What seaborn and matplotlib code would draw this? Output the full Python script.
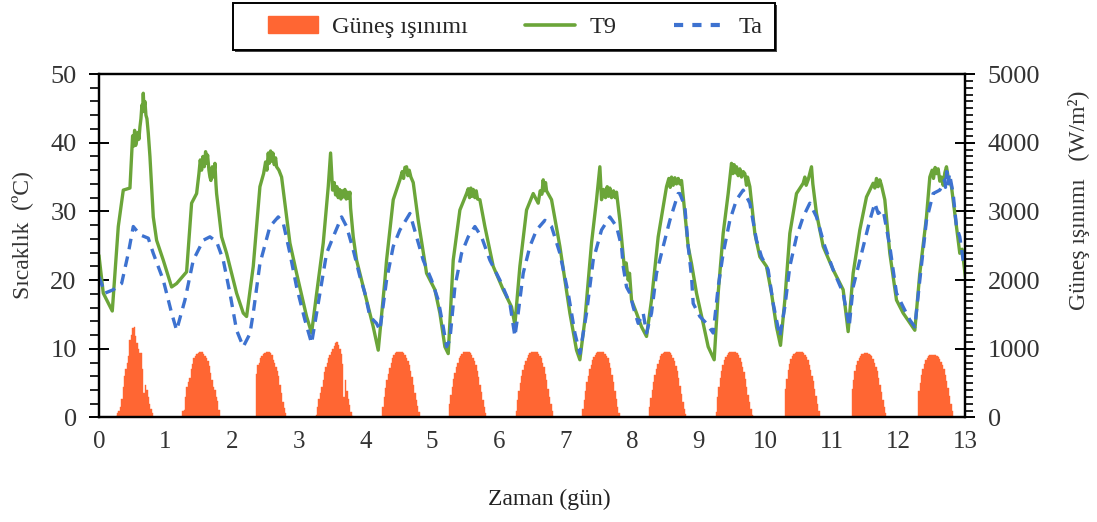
import numpy as np
import pandas as pd
import seaborn as sns
import matplotlib
matplotlib.use("Agg")
import matplotlib.pyplot as plt
from matplotlib.ticker import MultipleLocator
from matplotlib.patches import Patch, Rectangle
from matplotlib.lines import Line2D

# ---------------- data ----------------
t9_time = [0.0, 0.065, 0.2, 0.29, 0.365, 0.465, 0.49, 0.505, 0.52, 0.535, 0.55, 0.565, 0.585, 0.6, 0.615,
           0.63, 0.645, 0.655, 0.665, 0.675, 0.69, 0.705, 0.72, 0.74, 0.765, 0.815, 0.865, 0.965,
           1.09, 1.165, 1.315, 1.39, 1.465, 1.5, 1.52, 1.54, 1.56, 1.58, 1.6, 1.615, 1.63, 1.65, 1.665,
           1.68, 1.7, 1.72, 1.74, 1.755, 1.765, 1.84, 1.915,
           2.065, 2.165, 2.215, 2.315, 2.415, 2.47, 2.5, 2.52, 2.54, 2.555, 2.575, 2.59, 2.61, 2.63, 2.65,
           2.665, 2.7, 2.74, 2.815, 2.865, 2.965,
           3.115, 3.19, 3.265, 3.365, 3.44, 3.475, 3.505, 3.53, 3.55, 3.57, 3.59, 3.61, 3.63, 3.65, 3.665,
           3.69, 3.71, 3.73, 3.75, 3.765, 3.775, 3.815, 3.865,
           4.015, 4.115, 4.19, 4.29, 4.315, 4.415, 4.515, 4.55, 4.57, 4.59, 4.615, 4.635, 4.655, 4.68, 4.715,
           4.79, 4.915,
           5.04, 5.115, 5.19, 5.24, 5.315, 5.415, 5.515, 5.54, 5.56, 5.58, 5.6, 5.615, 5.64, 5.66, 5.68, 5.715,
           5.79, 5.915,
           6.065, 6.19, 6.24, 6.315, 6.415, 6.515, 6.59, 6.62, 6.645, 6.665, 6.68, 6.7, 6.715, 6.79, 6.915,
           7.065, 7.165, 7.215, 7.29, 7.39, 7.465, 7.515, 7.54, 7.57, 7.6, 7.625, 7.645, 7.665, 7.69, 7.72,
           7.745, 7.765, 7.815, 7.89, 7.91, 7.94, 7.96, 7.99,
           8.065, 8.14, 8.215, 8.29, 8.39, 8.515, 8.55, 8.57, 8.59, 8.615, 8.64, 8.665, 8.69, 8.715, 8.74,
           8.77, 8.84, 8.89, 8.965,
           9.065, 9.14, 9.23, 9.29, 9.365, 9.44, 9.49, 9.51, 9.53, 9.55, 9.565, 9.59, 9.615, 9.64, 9.665,
           9.69, 9.715, 9.73, 9.765, 9.84, 9.915,
           10.015, 10.09, 10.165, 10.225, 10.29, 10.365, 10.465, 10.565, 10.59, 10.61, 10.64, 10.69, 10.71,
           10.765, 10.865,
           11.015, 11.165, 11.24, 11.315, 11.415, 11.515, 11.615, 11.64, 11.665, 11.69, 11.715, 11.74,
           11.79, 11.865, 11.965,
           12.065, 12.24, 12.315, 12.415, 12.465, 12.5, 12.52, 12.545, 12.565, 12.59, 12.615, 12.64, 12.665,
           12.69, 12.715, 12.74, 12.79, 12.865, 12.915, 12.95, 13.0]
t9_temp = [23.6, 18.1, 15.5, 27.8, 33.1, 33.4, 38.0, 41.0, 39.5, 41.8, 39.6, 40.2, 41.5, 40.5, 42.3,
           43.5, 45.5, 44.5, 47.2, 45.0, 46.0, 44.0, 43.5, 41.4, 38.0, 29.2, 25.8, 22.9,
           19.0, 19.5, 21.2, 31.2, 32.6, 35.5, 37.5, 36.0, 38.0, 36.5, 38.7, 37.0, 38.2, 36.0, 35.0,
           34.5, 36.5, 35.0, 37.0, 34.0, 32.6, 26.3, 23.9,
           18.1, 15.2, 14.7, 22.0, 33.6, 35.5, 37.2, 36.0, 38.5, 37.0, 38.8, 37.3, 38.5, 36.8, 37.8,
           36.5, 36.0, 35.0, 29.2, 25.4, 21.0,
           14.7, 12.3, 18.0, 25.4, 33.6, 38.5, 33.1, 34.2, 32.4, 33.6, 32.0, 33.2, 31.8, 33.0, 32.1,
           33.2, 31.8, 32.8, 31.9, 32.8, 30.5, 26.3, 22.9,
           17.1, 13.2, 9.8, 20.0, 22.9, 31.7, 34.6, 35.8, 34.8, 36.4, 36.5, 35.2, 36.0, 35.0, 34.2,
           28.7, 21.0,
           18.6, 15.2, 10.3, 9.3, 22.9, 30.2, 32.6, 33.3, 32.0, 33.4, 32.2, 33.2, 32.0, 33.0, 31.8, 31.7,
           27.8, 22.0,
           18.6, 16.1, 13.5, 22.0, 30.2, 32.6, 31.2, 33.0, 32.5, 34.6, 33.0, 34.2, 33.0, 31.7, 24.9,
           15.2, 9.8, 8.4, 14.2, 25.4, 31.7, 36.5, 31.7, 33.2, 32.0, 33.6, 32.2, 33.4, 32.0, 33.0,
           32.0, 32.8, 28.7, 21.0, 22.5, 20.0, 21.0, 17.1,
           15.2, 13.2, 11.8, 17.1, 26.3, 33.6, 34.8, 33.5, 35.0, 33.8, 34.9, 34.0, 34.8, 34.0, 34.5,
           31.7, 24.9, 22.4, 18.1,
           13.7, 10.3, 8.4, 18.1, 26.8, 32.6, 37.0, 35.5, 36.8, 35.6, 36.5, 35.2, 36.2, 35.0, 35.8,
           35.5, 33.8, 35.0, 33.6, 26.8, 23.4,
           22.0, 18.1, 13.2, 10.5, 17.1, 26.8, 32.6, 34.1, 35.0, 33.8, 34.6, 36.5, 34.0,
           29.7, 24.9,
           21.5, 18.6, 12.5, 21.0, 27.3, 32.1, 34.1, 33.4, 34.8, 33.6, 34.6, 33.8,
           31.7, 23.9, 17.1,
           15.2, 12.7, 21.0, 29.2, 35.0, 36.0, 34.8, 36.4, 35.5, 36.2, 34.4, 35.0, 33.8,
           35.6, 36.5, 35.0, 33.6, 27.8, 23.9, 24.5, 20.4]

ta_time = [0.0, 0.09, 0.215, 0.34, 0.44, 0.515, 0.615, 0.74, 0.815, 0.965, 1.09, 1.165, 1.29, 1.415, 1.565,
           1.665, 1.765, 1.865, 1.965, 2.065, 2.165, 2.265, 2.315, 2.415, 2.565, 2.69, 2.765, 2.865, 2.965,
           3.09, 3.19, 3.315, 3.415, 3.515, 3.64, 3.715, 3.815, 3.915, 3.99, 4.065, 4.165, 4.215, 4.315,
           4.415, 4.515, 4.665, 4.765, 4.865, 4.99, 5.09, 5.165, 5.215, 5.265, 5.34, 5.44, 5.54, 5.64, 5.74,
           5.865, 6.015, 6.165, 6.24, 6.29, 6.365, 6.465, 6.565, 6.69, 6.79, 6.915, 7.04, 7.14, 7.215, 7.315,
           7.415, 7.54, 7.665, 7.765, 7.84, 7.865, 7.915, 7.965, 8.015, 8.09, 8.165, 8.215, 8.29, 8.365,
           8.465, 8.565, 8.69, 8.715, 8.79, 8.84, 8.89, 8.915, 9.015, 9.115, 9.215, 9.29, 9.365, 9.465,
           9.565, 9.665, 9.765, 9.865, 9.94, 10.04, 10.115, 10.215, 10.29, 10.365, 10.465, 10.565, 10.665,
           10.765, 10.89, 11.015, 11.165, 11.255, 11.315, 11.415, 11.565, 11.64, 11.69, 11.765, 11.865,
           11.965, 12.065, 12.165, 12.24, 12.315, 12.415, 12.515, 12.615, 12.69, 12.7, 12.72, 12.74,
           12.76, 12.815, 12.865, 12.915, 12.965, 13.0]
ta_temp = [20.5, 18.1, 18.6, 19.5, 23.9, 27.8, 26.6, 26.1, 23.9, 20.0, 15.2, 12.7, 17.1, 22.9, 25.8,
           26.3, 25.6, 22.9, 18.1, 12.7, 10.3, 12.2, 15.2, 22.4, 27.8, 29.2, 28.3, 23.9, 19.0,
           14.2, 10.8, 18.1, 23.9, 26.3, 29.2, 27.8, 24.4, 20.5, 18.1, 14.7, 13.7, 12.7, 20.0,
           24.9, 27.3, 29.7, 26.3, 22.9, 20.0, 17.1, 13.2, 10.3, 11.3, 19.0, 23.9, 26.3, 27.8, 26.3,
           22.9, 20.0, 16.6, 11.8, 15.2, 21.0, 24.9, 27.3, 28.7, 27.8, 23.9, 18.1, 12.3, 9.3, 15.2,
           22.9, 27.3, 29.2, 27.8, 24.9, 22.0, 19.0, 18.1, 16.1, 13.7, 15.2, 12.3, 15.2, 21.0,
           24.9, 28.7, 32.6, 32.6, 30.7, 24.9, 20.5, 16.6, 14.7, 13.7, 12.3, 19.0, 23.9, 28.7,
           31.7, 33.1, 31.2, 25.8, 23.4, 21.5, 16.6, 11.8, 16.1, 22.0, 26.3, 29.2, 31.2,
           29.2, 24.9, 21.5, 18.1, 13.2, 19.0, 22.9, 28.7, 31.2, 29.7, 30.2, 24.9,
           18.1, 16.1, 14.2, 13.2, 20.0, 28.7, 32.6, 33.1, 34.6, 33.5, 35.8, 34.0,
           35.5, 32.6, 27.8, 26.3, 22.9, 22.0]

# solar radiation (W/m2), half-hour values per day, first value = 06:00-06:30
rad_first_slot = 12
rad_d0 = [20, 60, 100, 150, 270, 450, 600, 700, 800, 900, 1130, 1200, 1300, 1320, 1180, 1080, 1000, 935, 935, 700, 350, 470, 400, 300, 200, 130, 60, 0]
rad_d1 = [100, 110, 300, 450, 520, 580, 700, 780, 860, 890, 920, 935, 950, 958, 950, 930, 900, 860, 820, 750, 650, 550, 450, 400, 300, 240, 110, 0]
rad_d2 = [0, 0, 0, 0, 0, 640, 760, 800, 860, 900, 930, 945, 958, 958, 958, 940, 910, 840, 790, 740, 680, 600, 480, 350, 230, 140, 60, 0]
rad_d3 = [30, 150, 270, 360, 450, 550, 660, 730, 800, 860, 910, 960, 1000, 1040, 1080, 1100, 1060, 1000, 920, 780, 300, 550, 380, 270, 180, 80, 20, 0]
rad_d4 = [150, 300, 430, 540, 640, 720, 800, 860, 905, 935, 950, 958, 960, 958, 950, 935, 910, 870, 820, 760, 680, 590, 480, 360, 260, 170, 80, 0]
rad_d5 = [200, 330, 450, 560, 650, 730, 800, 860, 900, 930, 950, 958, 960, 958, 950, 935, 910, 870, 820, 760, 680, 590, 480, 370, 260, 160, 70, 0]
rad_d6 = [100, 250, 380, 500, 600, 690, 760, 820, 870, 910, 935, 950, 958, 960, 958, 950, 930, 900, 860, 800, 730, 640, 540, 420, 300, 190, 90, 0]
rad_d7 = [120, 260, 390, 510, 610, 700, 770, 830, 880, 915, 940, 952, 958, 960, 958, 950, 930, 900, 860, 800, 720, 620, 510, 390, 270, 160, 70, 0]
rad_d8 = [150, 280, 400, 520, 620, 700, 780, 840, 890, 920, 945, 955, 960, 958, 950, 935, 910, 870, 820, 750, 670, 570, 460, 340, 230, 130, 50, 0]
rad_d9 = [80, 300, 450, 580, 680, 760, 830, 880, 915, 940, 952, 958, 960, 958, 950, 935, 905, 865, 810, 740, 660, 560, 450, 330, 220, 120, 40, 0]
rad_d10 = [0, 0, 420, 560, 690, 780, 850, 890, 920, 940, 950, 958, 960, 958, 950, 935, 910, 880, 830, 760, 690, 610, 530, 420, 310, 200, 90, 0]
rad_d11 = [0, 0, 420, 550, 670, 760, 820, 870, 900, 920, 930, 935, 935, 935, 930, 915, 890, 850, 800, 740, 670, 580, 480, 370, 260, 150, 60, 0]
rad_d12 = [0, 0, 380, 500, 620, 710, 780, 830, 865, 890, 905, 910, 910, 910, 905, 895, 875, 850, 810, 760, 700, 620, 530, 430, 320, 200, 90, 0]

x_ticks = list(range(0, 14))
temp_ticks = [0, 10, 20, 30, 40, 50]
rad_ticks = [0, 1000, 2000, 3000, 4000, 5000]

legend_labels = ["Güneş ışınımı", "T9", "Ta"]
x_label = "Zaman (gün)"
y_label_left = "Sıcaklık  (ºC)"
y_label_right = "Güneş ışınımı   (W/m²)"

# ---------------- styling ----------------
ORANGE = "#FF6633"
GREEN = "#6BA539"
BLUE = "#3D72D0"

sns.set_theme(style="white")
plt.rcParams["font.family"] = ["Liberation Serif", "DejaVu Serif"]
plt.rcParams["axes.edgecolor"] = "black"
plt.rcParams["xtick.color"] = "black"
plt.rcParams["ytick.color"] = "black"

rad_days = [rad_d0, rad_d1, rad_d2, rad_d3, rad_d4, rad_d5, rad_d6, rad_d7,
            rad_d8, rad_d9, rad_d10, rad_d11, rad_d12]
rad_time, rad_value = [], []
for day, vals in enumerate(rad_days):
    for i, v in enumerate(vals):
        rad_time.append(day + (rad_first_slot + i + 0.5) / 48.0)
        rad_value.append(v)
rad_df = pd.DataFrame({"time": rad_time, "rad": rad_value})

t9_df = pd.DataFrame({"time": t9_time, "temp": t9_temp})
ta_df = pd.DataFrame({"time": ta_time, "temp": ta_temp})

fig = plt.figure(figsize=(10.97, 5.22), dpi=100)
ax = fig.add_axes([0.0902, 0.2002, 0.7899, 0.6580])
ax2 = ax.twinx()

# bars (solar radiation) on the right axis
sns.histplot(data=rad_df, x="time", weights="rad", binwidth=1 / 48.0, binrange=(0, 13),
             ax=ax2, color=ORANGE, alpha=1.0, edgecolor=ORANGE, linewidth=0.3)

# temperatures on the left axis
sns.lineplot(data=t9_df, x="time", y="temp", ax=ax, color=GREEN, linewidth=2.4,
             estimator=None, sort=False)
sns.lineplot(data=ta_df, x="time", y="temp", ax=ax, color=BLUE, linewidth=2.4,
             estimator=None, sort=False)
ax.lines[-1].set_dashes([3.2, 2.2])
ax.lines[-1].set_dash_capstyle("butt")

ax.set_zorder(ax2.get_zorder() + 1)
ax.patch.set_visible(False)

ax.set_xlim(0, 13)
ax.set_ylim(0, 50)
ax2.set_ylim(0, 5000)
ax.set_xticks(x_ticks)
ax.set_xticklabels([str(v) for v in x_ticks])
ax.set_yticks(temp_ticks)
ax.set_yticklabels([str(v) for v in temp_ticks])
ax2.set_yticks(rad_ticks)
ax2.set_yticklabels([str(v) for v in rad_ticks])
ax.xaxis.set_minor_locator(MultipleLocator(0.5))
ax.yaxis.set_minor_locator(MultipleLocator(2))
ax2.yaxis.set_minor_locator(MultipleLocator(100))

ax.set_xlabel("")
ax.set_ylabel("")
ax2.set_xlabel("")
ax2.set_ylabel("")

for a in (ax, ax2):
    for s in a.spines.values():
        s.set_color("black")
        s.set_linewidth(1.6)

ax.tick_params(axis="x", which="major", direction="inout", length=13, width=1.4,
               labelsize=18, pad=3, top=False)
ax.tick_params(axis="x", which="minor", direction="out", length=7, width=1.2, top=False)
ax.tick_params(axis="y", which="major", direction="inout", length=14, width=1.4,
               labelsize=19, pad=9, right=False)
ax.tick_params(axis="y", which="minor", direction="out", length=6.5, width=1.2, right=False)
ax2.tick_params(axis="y", which="major", direction="inout", length=14, width=1.4,
                labelsize=19, pad=9)
ax2.tick_params(axis="y", which="minor", direction="out", length=6, width=1.2)
for lab in ax.get_xticklabels() + ax.get_yticklabels() + ax2.get_yticklabels():
    lab.set_color("#333333")

fig.text(22 / 1097, 1 - 235 / 522, y_label_left, rotation=90, ha="center", va="center",
         fontsize=17, color="#333333")
fig.text(1079 / 1097, 1 - 200 / 522, y_label_right, rotation=90, ha="center", va="center",
         fontsize=17, color="#333333")
fig.text(549 / 1097, 1 - 499 / 522, x_label, ha="center", va="center",
         fontsize=17, color="#222222")

# legend frame (with a small dark shadow at bottom/right as in the reference)
W, H = 1097.0, 522.0
fig.patches.append(Rectangle((235 / W, 1 - 52 / H), 542 / W, 47 / H, transform=fig.transFigure,
                             facecolor="#444444", edgecolor="none", zorder=5))
fig.patches.append(Rectangle((233 / W, 1 - 50 / H), 542 / W, 47 / H, transform=fig.transFigure,
                             facecolor="white", edgecolor="black", linewidth=1.4, zorder=6))

handles = [Patch(facecolor=ORANGE, edgecolor=ORANGE),
           Line2D([], [], color=GREEN, linewidth=2.6),
           Line2D([], [], color=BLUE, linewidth=3.0, dashes=[2.2, 2.2])]
leg = fig.legend(handles, legend_labels, loc="center left", ncol=3,
                 bbox_to_anchor=(268 / W, 1 - 27 / H),
                 frameon=False, fontsize=17.5,
                 handlelength=2.05, handleheight=0.7, handletextpad=0.6,
                 columnspacing=2.35, borderpad=0.0, borderaxespad=0.0)
leg.set_zorder(7)

fig.savefig("out.png", dpi=100)
